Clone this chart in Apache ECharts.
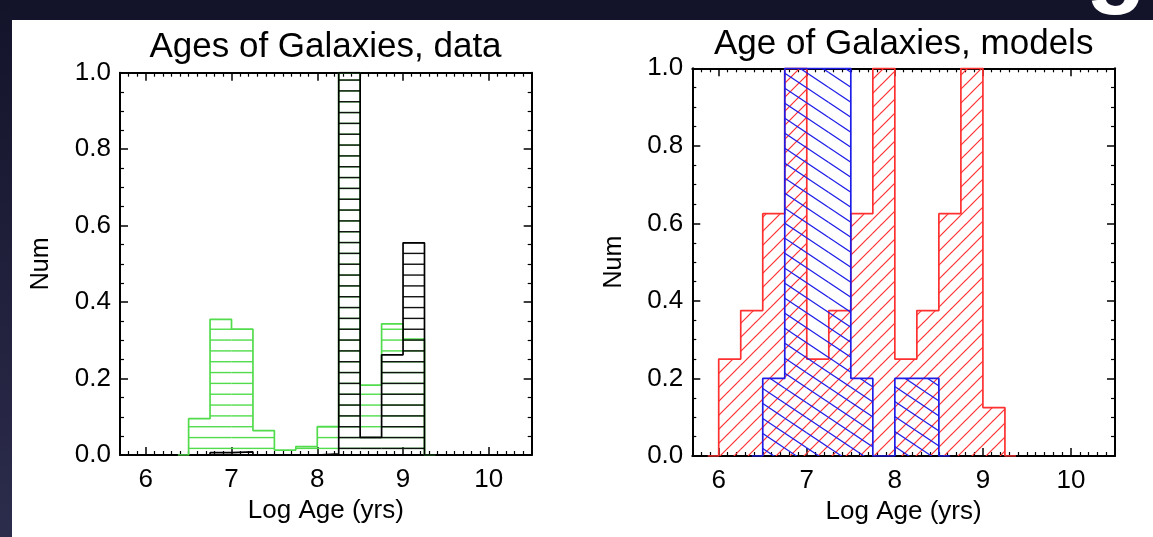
<!DOCTYPE html>
<html><head><meta charset="utf-8">
<script src="https://cdn.jsdelivr.net/npm/echarts@6/dist/echarts.min.js"></script>
<style>html,body{margin:0;padding:0;background:#fff}#chart{width:1153px;height:537px}</style>
</head><body><div id="chart"></div>
<script>
// ---------------- data ----------------
const binWidth = 0.25;
// left panel: "Ages of Galaxies, data"
const greenBinStarts = [6.5, 6.75, 7.0, 7.25, 7.5, 7.75, 8.0, 8.25, 8.5, 8.75, 9.0];
const greenCounts    = [0.095, 0.355, 0.329, 0.064, 0.013, 0.022, 0.074, 1.0, 0.183, 0.343, 0.303];
const blackBinStarts = [6.75, 7.0, 7.25, 7.5, 7.75, 8.0, 8.25, 8.5, 8.75, 9.0];
const blackCounts    = [0.006, 0.008, 0, 0, 0, 0.003, 1.0, 0.046, 0.262, 0.555];
// right panel: "Age of Galaxies, models"
const redBinStarts = [6.0, 6.25, 6.5, 6.75, 7.0, 7.25, 7.5, 7.75, 8.0, 8.25, 8.5, 8.75, 9.0];
const redCounts    = [0.25, 0.375, 0.625, 1.0, 0.25, 0.375, 0.625, 1.0, 0.25, 0.375, 0.625, 1.0, 0.125];
const blueBinStarts = [6.5, 6.75, 7.0, 7.25, 7.5, 7.75, 8.0, 8.25];
const blueCounts    = [0.2, 1.0, 1.0, 1.0, 0.2, 0, 0.2, 0.2];
// axes
const xMin = 5.7, xMax = 10.5;
const yMin = 0, yMax = 1, yStep = 0.2;
const titles = ['Ages of Galaxies, data', 'Age of Galaxies, models'];
const xName = 'Log Age (yrs)';
const yName = 'Num';

// ---------------- styling helpers ----------------
const FONT = '"Liberation Sans", Arial, Helvetica, sans-serif';
const GREEN = '#52dc4c', BLACK = '#000000', RED = '#ff3030', BLUE = '#1e1ee8';

function horizPattern(color, period, offset) {
  const c = document.createElement('canvas');
  c.width = 4; c.height = Math.round(period * 6);
  const g = c.getContext('2d');
  g.fillStyle = color;
  for (let k = 0; k < 6; k++) {
    const y = (offset + k * period) % c.height;
    g.fillRect(0, y, 4, 1.4);
  }
  return { image: c, repeat: 'repeat' };
}
function diagPattern(color, w, h, spacing, dir) {
  const c = document.createElement('canvas');
  c.width = w; c.height = h;
  const g = c.getContext('2d');
  g.strokeStyle = color; g.lineWidth = 1.2;
  const s = h / w;
  for (let cc = -3 * h; cc <= 3 * h; cc += spacing) {
    g.beginPath();
    if (dir > 0) { g.moveTo(-w, -s * w + cc); g.lineTo(2 * w, 2 * s * w + cc); }
    else { g.moveTo(-w, s * w + cc); g.lineTo(2 * w, -2 * s * w + cc); }
    g.stroke();
  }
  return { image: c, repeat: 'repeat' };
}

const greenFill = horizPattern(GREEN, 65 / 6, 57.7 % (65 / 6));
const blackFill = horizPattern('#111', 65 / 6, 57.7 % (65 / 6));
const redFill = diagPattern(RED, 14, 14, 14, -1);
const blueFill = diagPattern(BLUE, 45, 30, 15, 1);

function hatchSeries(starts, values, fill, gi, z) {
  return {
    type: 'custom', xAxisIndex: gi * 2, yAxisIndex: gi * 2, clip: true, z: z,
    animation: false, silent: true,
    data: starts.map((s, i) => [s, s + binWidth, values[i]]),
    encode: { x: [0, 1], y: 2 },
    renderItem: function (params, api) {
      const p0 = api.coord([api.value(0), api.value(2)]);
      const p1 = api.coord([api.value(1), 0]);
      return { type: 'rect', shape: { x: p0[0], y: p0[1], width: p1[0] - p0[0], height: p1[1] - p0[1] },
               style: { fill: fill, stroke: null } };
    }
  };
}
function outlineSeries(starts, values, color, gi, z) {
  const pts = [[starts[0] - binWidth / 2, 0]];
  starts.forEach((s, i) => pts.push([s, values[i]]));
  const end = starts[starts.length - 1] + binWidth;
  pts.push([end, 0]);
  pts.push([end + binWidth / 2, 0]);
  return {
    type: 'line', xAxisIndex: gi * 2, yAxisIndex: gi * 2, step: 'end', data: pts,
    symbol: 'none', clip: true, z: z, animation: false, silent: true,
    lineStyle: { color: color, width: 1.7 }
  };
}

const labelStyle = { color: '#000', fontSize: 26, fontFamily: FONT };
function xAxesFor(gi) {
  const common = {
    type: 'value', gridIndex: gi, min: xMin, max: xMax, splitNumber: 5,
    splitLine: { show: false },
    axisLine: { show: true, onZero: false, lineStyle: { color: '#000', width: 2 } },
    axisTick: { show: true, inside: true, length: 8, lineStyle: { color: '#000', width: 1.5 } },
    minorTick: { show: true, splitNumber: 10, length: 4, lineStyle: { color: '#000', width: 1.2 } }
  };
  return [
    Object.assign({}, common, {
      position: 'bottom',
      axisLabel: Object.assign({ show: true, margin: 12,
        formatter: v => Math.abs(v - Math.round(v)) < 1e-6 ? String(Math.round(v)) : '' }, labelStyle),
      name: xName, nameLocation: 'middle', nameGap: 40,
      nameTextStyle: { color: '#000', fontSize: 26, fontFamily: FONT }
    }),
    Object.assign({}, common, { position: 'top', axisLabel: { show: false } })
  ];
}
function yAxesFor(gi) {
  const common = {
    type: 'value', gridIndex: gi, min: yMin, max: yMax, interval: yStep,
    splitLine: { show: false },
    axisLine: { show: true, onZero: false, lineStyle: { color: '#000', width: 2 } },
    axisTick: { show: true, inside: true, length: 8, lineStyle: { color: '#000', width: 1.5 } },
    minorTick: { show: true, splitNumber: 4, length: 4, lineStyle: { color: '#000', width: 1.2 } }
  };
  return [
    Object.assign({}, common, {
      position: 'left',
      axisLabel: Object.assign({ show: true, margin: 9, formatter: v => v.toFixed(1) }, labelStyle),
      name: yName, nameLocation: 'middle', nameGap: 66,
      nameTextStyle: { color: '#000', fontSize: 25, fontFamily: FONT }
    }),
    Object.assign({}, common, { position: 'right', axisLabel: { show: false } })
  ];
}

const chart = echarts.init(document.getElementById('chart'), null, { renderer: 'canvas' });
chart.setOption({
  backgroundColor: '#ffffff',
  animation: false,
  grid: [
    { left: 120, top: 72.7, width: 411.7, height: 382.3 },
    { left: 692.3, top: 68.3, width: 422.7, height: 387.7 }
  ],
  xAxis: xAxesFor(0).concat(xAxesFor(1)),
  yAxis: yAxesFor(0).concat(yAxesFor(1)),
  series: [
    hatchSeries(greenBinStarts, greenCounts, greenFill, 0, 2),
    outlineSeries(greenBinStarts, greenCounts, GREEN, 0, 3),
    hatchSeries(blackBinStarts, blackCounts, blackFill, 0, 4),
    outlineSeries(blackBinStarts, blackCounts, BLACK, 0, 5),
    hatchSeries(redBinStarts, redCounts, redFill, 1, 2),
    outlineSeries(redBinStarts, redCounts, RED, 1, 3),
    hatchSeries(blueBinStarts, blueCounts, blueFill, 1, 4),
    outlineSeries(blueBinStarts, blueCounts, BLUE, 1, 5)
  ],
  graphic: [
    { type: 'rect', left: 0, top: 0, z: 0, silent: true,
      shape: { width: 1153, height: 20 }, style: { fill: '#13132a' } },
    { type: 'rect', left: 0, top: 0, z: 0, silent: true,
      shape: { width: 12, height: 537 },
      style: { fill: new echarts.graphic.LinearGradient(0, 0, 0, 1, [
        { offset: 0, color: '#13132a' }, { offset: 1, color: '#2c2c4c' }]) } },
    { type: 'text', x: 1116, y: -34, z: 10, silent: true,
      style: { text: 'g', fill: '#ffffff', font: 'bold 100px ' + FONT, textAlign: 'center', textVerticalAlign: 'middle' } },
    { type: 'text', x: 325.5, y: 47, z: 10, silent: true,
      style: { text: titles[0], fill: '#000', font: '35px ' + FONT, textAlign: 'center', textVerticalAlign: 'middle' } },
    { type: 'text', x: 903.7, y: 44, z: 10, silent: true,
      style: { text: titles[1], fill: '#000', font: '35px ' + FONT, textAlign: 'center', textVerticalAlign: 'middle' } }
  ]
});
</script></body></html>
